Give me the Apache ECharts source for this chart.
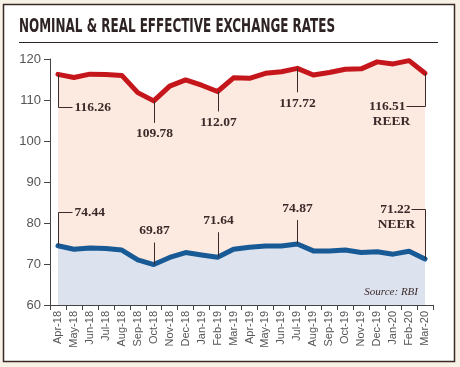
<!DOCTYPE html>
<html><head><meta charset="utf-8">
<script src="https://cdn.jsdelivr.net/npm/echarts@6/dist/echarts.min.js"></script>
<style>html,body{margin:0;padding:0;background:#f7f1e6;}#c{width:460px;height:367px;}</style>
</head><body><div id="c"></div>
<script>
const months = ['Apr-18','May-18','Jun-18','Jul-18','Aug-18','Sep-18','Oct-18','Nov-18','Dec-18','Jan-19','Feb-19','Mar-19','Apr-19','May-19','Jun-19','Jul-19','Aug-19','Sep-19','Oct-19','Nov-19','Dec-19','Jan-20','Feb-20','Mar-20'];
const reer = [116.26,115.5,116.3,116.2,116.0,111.8,109.78,113.4,114.9,113.6,112.07,115.4,115.3,116.5,116.9,117.72,116.1,116.7,117.5,117.6,119.3,118.8,119.6,116.51];
const neer = [74.44,73.6,73.9,73.8,73.4,71.0,69.87,71.6,72.8,72.2,71.64,73.6,74.1,74.4,74.4,74.87,73.2,73.2,73.4,72.8,73.0,72.4,73.1,71.22];
const yMin = 60, yMax = 120, yStep = 10;
const titleText = 'NOMINAL & REAL EFFECTIVE EXCHANGE RATES';
const sourceText = 'Source: RBI';
const reerCallouts = [
  {i:0, kind:'elbowR', dy:33, dx:14},
  {i:6, kind:'down', dy:22},
  {i:10, kind:'down', dy:20},
  {i:15, kind:'down', dy:24},
  {i:23, kind:'elbowL', dy:33, dx:-19, sub:'REER'}
];
const neerCallouts = [
  {i:0, kind:'elbowR', dy:-34, dx:14},
  {i:6, kind:'up', dy:-22},
  {i:10, kind:'up', dy:-25},
  {i:15, kind:'up', dy:-24},
  {i:23, kind:'elbowL', dy:-50, dx:-14, sub:'NEER'}
];

const chart = echarts.init(document.getElementById('c'), null, {renderer:'canvas'});
const axisColor = '#444';
const labelColor = '#555';
chart.setOption({
  backgroundColor: '#f7f1e6',
  animation: false,
  grid: {left:50, right:27, top:59, bottom:62, containLabel:false},
  xAxis: {
    type:'category', data: months, boundaryGap:true,
    axisLine:{show:true, lineStyle:{color:axisColor, width:1}},
    axisTick:{show:true, interval:0, length:5, lineStyle:{color:axisColor}},
    axisLabel:{interval:0, rotate:90, color:labelColor, fontSize:11, fontFamily:'Liberation Sans', margin:6}
  },
  yAxis: {
    type:'value', min:yMin, max:yMax, interval:yStep,
    axisLine:{show:true, lineStyle:{color:axisColor, width:1}},
    axisTick:{show:true, length:6, lineStyle:{color:axisColor}},
    splitLine:{show:false},
    axisLabel:{color:labelColor, fontSize:13, fontFamily:'Liberation Sans', margin:9}
  },
  series: [
    {type:'line', name:'REER', data: reer, symbol:'none', smooth:false,
     lineStyle:{color:'#c5161c', width:5, join:'round', cap:'round'},
     areaStyle:{color:'#fce9df', opacity:1, origin:'start'}, z:3},
    {type:'line', name:'NEER', data: neer, symbol:'none', smooth:false,
     lineStyle:{color:'#175a96', width:5, join:'round', cap:'round'},
     areaStyle:{color:'#dde3ee', opacity:1, origin:'start'}, z:4}
  ]
});

const titleFont = 'bold 19px "DejaVu Sans Condensed", "DejaVu Sans", sans-serif';
const mc = document.createElement('canvas').getContext('2d');
mc.font = titleFont;
const tw = mc.measureText(titleText).width;
const titleScale = 316 / tw;

const els = [];
els.push({type:'rect', z:-5, shape:{x:3.5, y:4.5, width:451, height:357}, style:{fill:'#ffffff', stroke:'#3a2a25', lineWidth:1.5}});
els.push({type:'text', z:10, x:19, y:27, scaleX:titleScale, scaleY:1, style:{text:titleText, x:0, y:0, font:titleFont, fill:'#2e2323', textAlign:'left', textVerticalAlign:'middle', align:'left', verticalAlign:'middle'}});
els.push({type:'line', z:10, shape:{x1:19, y1:42.5, x2:438, y2:42.5}, style:{stroke:'#2e2323', lineWidth:1}});
els.push({type:'text', z:10, style:{text:sourceText, x:418, y:292, font:'italic 11px "Liberation Serif", serif', fill:'#3a2a2a', textAlign:'right', textVerticalAlign:'middle', align:'right', verticalAlign:'middle'}});

const cFont = 'bold 13.5px "Liberation Serif", serif';
const cCol = '#3a2a2a';
function txt(t, x, y, al){
  return {type:'text', z:20, style:{text:t, x:x, y:y, font:cFont, fill:cCol, textAlign:al, textVerticalAlign:'middle', align:al, verticalAlign:'middle'}};
}
function addCallouts(list, data){
  list.forEach(c=>{
    const p = chart.convertToPixel({xAxisIndex:0, yAxisIndex:0}, [c.i, data[c.i]]);
    const x = Math.round(p[0])+0.5, y = p[1];
    const label = data[c.i].toFixed(2);
    if (c.kind==='elbowR' || c.kind==='elbowL'){
      const ey = Math.round(y+c.dy)+0.5;
      els.push({type:'polyline', z:20, shape:{points:[[x,y],[x,ey],[x+c.dx,ey]]}, style:{stroke:cCol, lineWidth:1, fill:null}});
      if (c.kind==='elbowR'){
        els.push(txt(label, x+c.dx+2, ey, 'left'));
      } else {
        els.push(txt(label, x+c.dx-1, ey, 'right'));
        els.push(txt(c.sub, x+c.dx-15, ey+15, 'center'));
      }
    } else {
      const ey = y + c.dy;
      els.push({type:'line', z:20, shape:{x1:x, y1:y, x2:x, y2:ey}, style:{stroke:cCol, lineWidth:1}});
      const ty = c.kind==='down' ? ey+11 : ey-12;
      els.push(txt(label, x, ty, 'center'));
    }
  });
}
addCallouts(reerCallouts, reer);
addCallouts(neerCallouts, neer);
chart.setOption({graphic:{elements:els}});
</script></body></html>
